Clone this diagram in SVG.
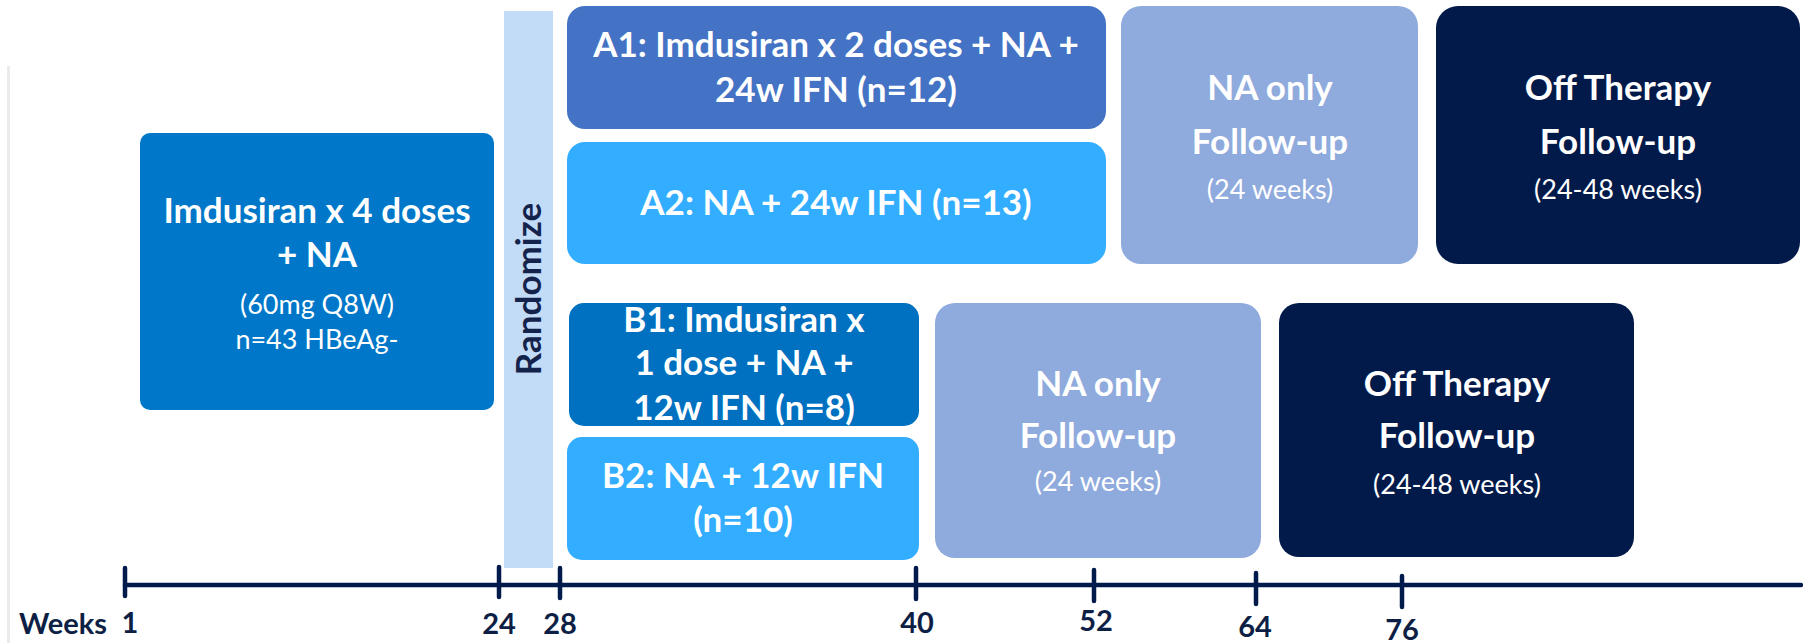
<svg xmlns="http://www.w3.org/2000/svg" width="1803" height="643" viewBox="0 0 1803 643">
<style>
.t{font-family:Lato,"Liberation Sans",sans-serif;fill:#fff;text-anchor:middle}
.b{font-weight:700;font-size:35px}
.r{font-weight:400;font-size:27px}
.ax{font-family:Lato,"Liberation Sans",sans-serif;font-weight:700;font-size:29px;fill:#0E1F45;text-anchor:middle}
.tick{stroke:#001B4B;stroke-width:4.5;stroke-linecap:round}
</style>
<rect width="1803" height="643" fill="#fff"/>
<line x1="8.5" y1="66" x2="8.5" y2="643" stroke="#EBEBEB" stroke-width="3"/>

<g id="induction">
<rect x="140" y="133" width="354" height="277" rx="10" fill="#0077C8"/>
<text class="t b" x="317" y="223">Imdusiran x 4 doses</text>
<text class="t b" x="317" y="267">+ NA</text>
<text class="t r" x="317" y="314">(60mg Q8W)</text>
<text class="t r" x="317" y="349">n=43 HBeAg-</text>
</g>

<g id="randomize">
<rect x="504" y="11" width="49" height="557" fill="#C2DBF7"/>
<text x="541" y="289" transform="rotate(-90 541 289)" font-family="Lato,'Liberation Sans',sans-serif" font-weight="700" font-size="35" fill="#14234B" text-anchor="middle">Randomize</text>
</g>

<g id="A1">
<rect x="567" y="6" width="539" height="123" rx="18" fill="#4472C4"/>
<text class="t b" x="836" y="57">A1: Imdusiran x 2 doses + NA +</text>
<text class="t b" x="836" y="102">24w IFN (n=12)</text>
</g>

<g id="A2">
<rect x="567" y="142" width="539" height="122" rx="18" fill="#33ADFF"/>
<text class="t b" x="836" y="215">A2: NA + 24w IFN (n=13)</text>
</g>

<g id="B1">
<rect x="569" y="303" width="350" height="123" rx="15" fill="#0070C0"/>
<text class="t b" x="744" y="332">B1: Imdusiran x</text>
<text class="t b" x="744" y="375">1 dose + NA +</text>
<text class="t b" x="744" y="420">12w IFN (n=8)</text>
</g>

<g id="B2">
<rect x="567" y="437" width="352" height="123" rx="15" fill="#33ADFF"/>
<text class="t b" x="743" y="488">B2: NA + 12w IFN</text>
<text class="t b" x="743" y="532">(n=10)</text>
</g>

<g id="NA_top">
<rect x="1121" y="6" width="297" height="258" rx="20" fill="#8FAADC"/>
<text class="t b" x="1270" y="100">NA only</text>
<text class="t b" x="1270" y="154">Follow-up</text>
<text class="t r" x="1270" y="199">(24 weeks)</text>
</g>

<g id="Off_top">
<rect x="1436" y="6" width="364" height="258" rx="22" fill="#021A4A"/>
<text class="t b" x="1618" y="100">Off Therapy</text>
<text class="t b" x="1618" y="154">Follow-up</text>
<text class="t r" x="1618" y="199">(24-48 weeks)</text>
</g>

<g id="NA_bottom">
<rect x="935" y="303" width="326" height="255" rx="20" fill="#8FAADC"/>
<text class="t b" x="1098" y="396">NA only</text>
<text class="t b" x="1098" y="448">Follow-up</text>
<text class="t r" x="1098" y="491">(24 weeks)</text>
</g>

<g id="Off_bottom">
<rect x="1279" y="303" width="355" height="254" rx="20" fill="#021A4A"/>
<text class="t b" x="1457" y="396">Off Therapy</text>
<text class="t b" x="1457" y="448">Follow-up</text>
<text class="t r" x="1457" y="494">(24-48 weeks)</text>
</g>

<g id="timeline">
<line x1="125" y1="585" x2="1801" y2="585" stroke="#001B4B" stroke-width="4.5" stroke-linecap="round"/>
<line class="tick" x1="125" y1="568" x2="125" y2="596"/>
<line class="tick" x1="499" y1="567" x2="499" y2="597"/>
<line class="tick" x1="560" y1="568" x2="560" y2="598"/>
<line class="tick" x1="916" y1="568" x2="916" y2="599"/>
<line class="tick" x1="1094" y1="570" x2="1094" y2="601"/>
<line class="tick" x1="1256" y1="573" x2="1256" y2="604"/>
<line class="tick" x1="1402" y1="576" x2="1402" y2="607"/>
<text class="ax" x="19" y="634" text-anchor="start" style="text-anchor:start">Weeks</text>
<text class="ax" x="130" y="633">1</text>
<text class="ax" x="499" y="634">24</text>
<text class="ax" x="560" y="634">28</text>
<text class="ax" x="917" y="633">40</text>
<text class="ax" x="1096" y="631">52</text>
<text class="ax" x="1255" y="637">64</text>
<text class="ax" x="1402" y="640">76</text>
</g>
</svg>
